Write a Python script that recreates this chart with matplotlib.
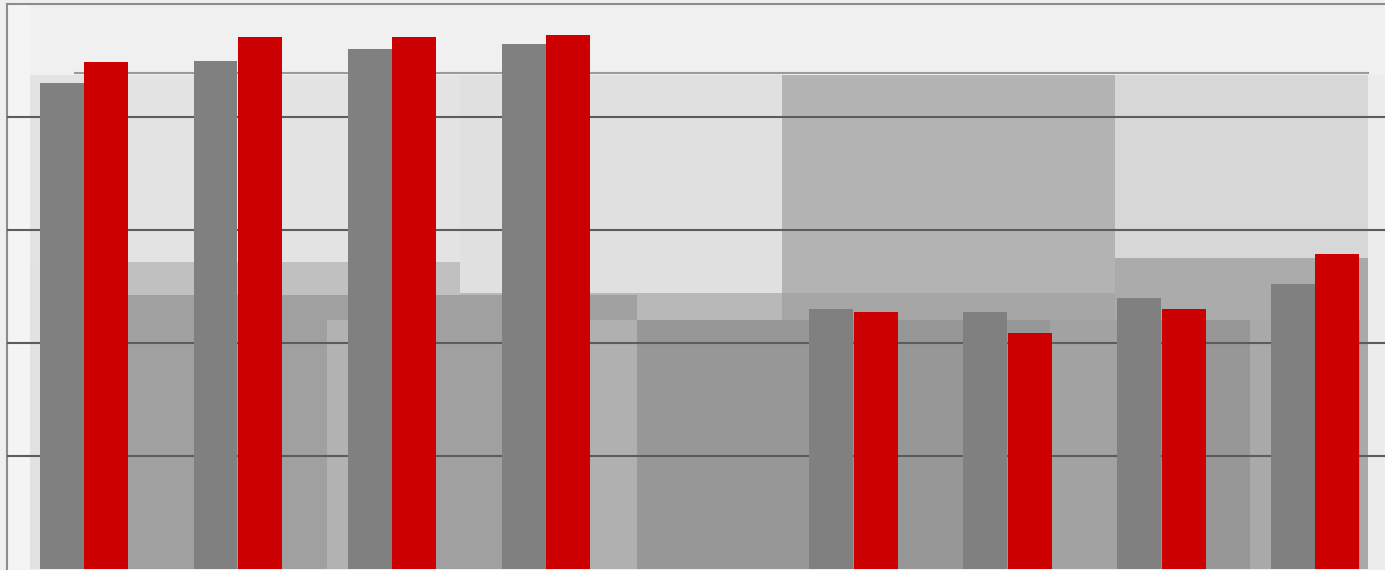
import numpy as np
import matplotlib.pyplot as plt
from matplotlib.patches import Rectangle

# data (gridlines are 1 unit apart, 5 units to the top frame)
groups = np.arange(9)
gray_vals = [4.30, 4.50, 4.60, 4.65, np.nan, 2.30, 2.27, 2.40, 2.52]
red_vals = [4.49, 4.71, 4.71, 4.73, np.nan, 2.27, 2.09, 2.30, 2.79]

W, H = 1385, 570
fig = plt.figure(figsize=(W / 100, H / 100), dpi=100, facecolor='#efefef')

# axes placed in pixels: left 6.5, 154 px per group, baseline at 569, top at 4
ax_l, ax_r, ax_b, ax_t = 6.5, 6.5 + 154 * 9, 569, 4
ax = fig.add_axes([ax_l / W, 1 - ax_b / H, (ax_r - ax_l) / W, (ax_b - ax_t) / H])
ax.set_xlim(-0.5, 8.5)
ax.set_ylim(0, 5)
ax.patch.set_facecolor('#ececec')


def px_rect(x0, x1, y0, y1, color):
    # background shading, given in picture pixels
    fx0 = (x0 - ax_l) / (ax_r - ax_l)
    fx1 = (x1 - ax_l) / (ax_r - ax_l)
    fy0 = (ax_b - y1) / (ax_b - ax_t)
    fy1 = (ax_b - y0) / (ax_b - ax_t)
    ax.add_patch(Rectangle((fx0, fy0), fx1 - fx0, fy1 - fy0, transform=ax.transAxes,
                           facecolor=color, edgecolor='none', zorder=0.2))


# faded backdrop shapes behind the chart
px_rect(0, 1400, 0, 75, '#f0f0f0')
px_rect(0, 30, 0, 570, '#f4f4f4')
px_rect(30, 460, 75, 262, '#e3e3e3')
px_rect(30, 128, 262, 569, '#e2e2e2')
px_rect(128, 460, 262, 295, '#c0c0c0')
px_rect(460, 782, 75, 293, '#e0e0e0')
px_rect(460, 782, 293, 320, '#b8b8b8')
px_rect(782, 1115, 75, 293, '#b3b3b3')
px_rect(782, 1115, 293, 320, '#a6a6a6')
px_rect(1115, 1368, 75, 258, '#d7d7d7')
px_rect(1115, 1368, 258, 320, '#ababab')
px_rect(128, 637, 295, 569, '#a0a0a0')
px_rect(327, 348, 320, 569, '#b2b2b2')
px_rect(580, 637, 320, 569, '#b0b0b0')
px_rect(637, 1368, 320, 569, '#979797')
px_rect(1050, 1118, 320, 569, '#a2a2a2')
px_rect(1250, 1272, 320, 569, '#a9a9a9')
px_rect(1360, 1368, 258, 569, '#a9a9a9')
ax.plot([(75 - ax_l) / (ax_r - ax_l), (1368 - ax_l) / (ax_r - ax_l)],
        [(ax_b - 73) / (ax_b - ax_t)] * 2, transform=ax.transAxes,
        color='#9a9a9a', lw=1.5, zorder=0.3)

bw = 44 / 154
ax.bar(groups - bw / 2, gray_vals, width=bw, color='#808080', zorder=3)
ax.bar(groups + bw / 2, red_vals, width=bw, color='#cc0000', zorder=3)

ax.set_yticks([1, 2, 3, 4])
ax.yaxis.grid(True, color='#5c5c5c', lw=1.5, zorder=1)
ax.set_axisbelow(False)
for gl in ax.get_ygridlines():
    gl.set_zorder(1)
ax.tick_params(left=False, bottom=False, labelleft=False, labelbottom=False)
ax.set_xticks([])

for s in ['right', 'bottom']:
    ax.spines[s].set_visible(False)
for s in ['left', 'top']:
    ax.spines[s].set_color('#8c8c8c')
    ax.spines[s].set_linewidth(1.5)

plt.savefig('out.png', dpi=100, facecolor=fig.get_facecolor())
